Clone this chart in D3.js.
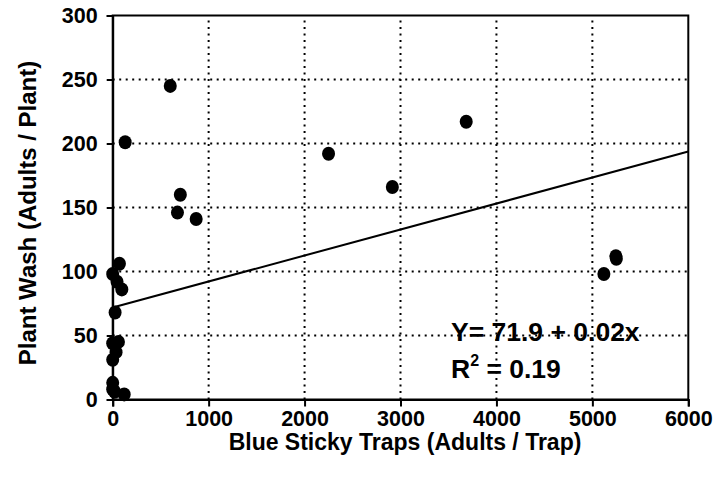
<!DOCTYPE html>
<html>
<head>
<meta charset="utf-8">
<script src="https://cdn.jsdelivr.net/npm/d3@7"></script>
<style>
  body { margin: 0; background: #fff; }
  text { font-family: "Liberation Sans", Arial, sans-serif; font-weight: bold; fill: #000; }
</style>
</head>
<body>
<script>
// trap counts vs plant wash counts
const trapCounts = [0, 0, 20, 120, 0, 60, 35, 0, 25, 0, 45, 95, 70, 130, 600, 705, 675, 870, 2250, 2915, 3685, 5245, 5250, 5120];
const washCounts = [13, 8, 6, 4, 44, 45, 37, 31, 68, 98, 92, 86, 106, 201, 245, 160, 146, 141, 192, 166, 217, 112, 110, 98];
const xTicks = [0, 1000, 2000, 3000, 4000, 5000, 6000];
const yTicks = [0, 50, 100, 150, 200, 250, 300];
const fitIntercept = 71.9;
const fitSlope = 0.0203;
const eqLine1 = "Y= 71.9 + 0.02x";
const eqR2 = "0.19";

const width = 717, height = 480;
const margin = { left: 112.7, right: 717 - 688.3, top: 15.5, bottom: 480 - 399.5 };

const svg = d3.select("body").append("svg")
    .attr("width", width)
    .attr("height", height);

const x = d3.scaleLinear().domain([0, 6000]).range([margin.left, width - margin.right]);
const y = d3.scaleLinear().domain([0, 300]).range([height - margin.bottom, margin.top]);

// dotted grid
svg.append("g").selectAll("line")
    .data(yTicks.filter(d => d > 0 && d < 300))
    .enter().append("line")
    .attr("x1", x(0)).attr("x2", x(6000))
    .attr("y1", d => y(d)).attr("y2", d => y(d))
    .attr("stroke", "#000").attr("stroke-width", 2)
    .attr("stroke-dasharray", "2,4.5");

svg.append("g").selectAll("line")
    .data(xTicks.filter(d => d > 0 && d < 6000))
    .enter().append("line")
    .attr("y1", y(0)).attr("y2", y(300))
    .attr("x1", d => x(d)).attr("x2", d => x(d))
    .attr("stroke", "#000").attr("stroke-width", 2)
    .attr("stroke-dasharray", "2,4.5");

// frame
svg.append("rect")
    .attr("x", x(0)).attr("y", y(300))
    .attr("width", x(6000) - x(0)).attr("height", y(0) - y(300))
    .attr("fill", "none").attr("stroke", "#000").attr("stroke-width", 2);

// axes
const xAxis = svg.append("g")
    .attr("transform", `translate(0,${y(0)})`)
    .call(d3.axisBottom(x).tickValues(xTicks).tickSize(7).tickPadding(4).tickFormat(d3.format("d")));
const yAxis = svg.append("g")
    .attr("transform", `translate(${x(0)},0)`)
    .call(d3.axisLeft(y).tickValues(yTicks).tickSize(6).tickPadding(9).tickFormat(d3.format("d")));

[xAxis, yAxis].forEach(g => {
    g.select(".domain").attr("stroke-width", 2);
    g.selectAll(".tick line").attr("stroke-width", 2);
    g.selectAll(".tick text").style("font-size", "21.5px")
        .style("font-family", "'Liberation Sans', Arial, sans-serif").style("font-weight", "bold");
});

// regression line
svg.append("line")
    .attr("x1", x(0)).attr("y1", y(fitIntercept))
    .attr("x2", x(6000)).attr("y2", y(fitIntercept + fitSlope * 6000))
    .attr("stroke", "#000").attr("stroke-width", 2);

// points
const pts = trapCounts.map((t, i) => ({ t, w: washCounts[i] }));
svg.append("g").selectAll("ellipse")
    .data(pts)
    .enter().append("ellipse")
    .attr("cx", d => x(d.t))
    .attr("cy", d => y(d.w))
    .attr("rx", 6.5).attr("ry", 7)
    .attr("fill", "#000");

// equation
const eq = svg.append("g");
eq.append("text").attr("x", 451).attr("y", 341)
    .style("font-size", "26.5px").text(eqLine1);
const r2 = eq.append("text").attr("x", 451).attr("y", 378).style("font-size", "26.5px");
r2.append("tspan").text("R");
r2.append("tspan").attr("dy", -12).style("font-size", "16px").text("2");
r2.append("tspan").attr("dy", 12).text(" = " + eqR2);

// axis titles
svg.append("text")
    .attr("x", 405).attr("y", 450)
    .attr("text-anchor", "middle")
    .style("font-size", "23px")
    .text("Blue Sticky Traps (Adults / Trap)");

svg.append("text")
    .attr("transform", "translate(36,213) rotate(-90)")
    .attr("text-anchor", "middle")
    .style("font-size", "24px")
    .text("Plant Wash (Adults / Plant)");
</script>
</body>
</html>
